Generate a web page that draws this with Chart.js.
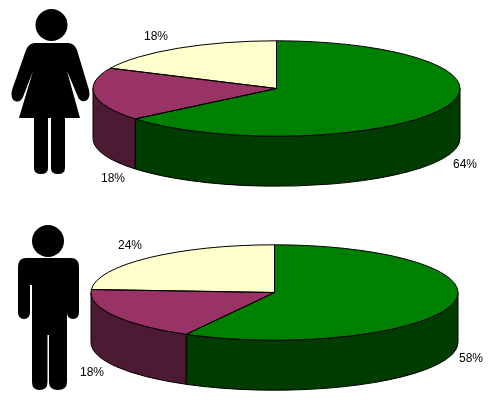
<!DOCTYPE html>
<html>
<head>
<meta charset="utf-8">
<title>Pie charts</title>
<script src="https://cdn.jsdelivr.net/npm/chart.js@4"></script>
<style>
    html, body { margin: 0; padding: 0; background: #fff; }
    #stage { position: relative; width: 488px; height: 407px; overflow: hidden; }
    #stage canvas, #stage svg { position: absolute; left: 0; top: 0; }
</style>
</head>
<body>
<div id="stage">
    <svg width="488" height="407" viewBox="0 0 488 407">
        <!-- woman -->
        <circle cx="51.5" cy="25" r="16" fill="#000"/>
        <path fill="#000" d="M35 43 H68 Q74 43 77 50 L89 90 Q91 99 85 101 Q80 102 78 97 L67 71 L80 118 H65 V168 Q65 174 58 174 Q51 174 51 168 V118 H48 V168 Q48 174 41 174 Q34 174 34 168 V118 H19 L33 71 L23 97 Q20 103 15 101 Q10 99 12 90 L26 50 Q29 43 35 43 Z"/>
        <!-- man -->
        <circle cx="48" cy="241" r="16" fill="#000"/>
        <path fill="#000" d="M26 258 H71 Q79 258 79 267 V312 Q79 319 73 319 Q67 319 67 312 V285 V382 Q67 390 58 390 Q49 390 49 382 V335 H47.5 V382 Q47.5 390 39.500 390 Q32 390 32 382 V285 H30 V312 Q30 319 24 319 Q18 319 18 312 V267 Q18 258 26 258 Z"/>
    </svg>
    <canvas id="womenPie" width="488" height="407"></canvas>
    <canvas id="menPie" width="488" height="407"></canvas>
</div>

<script>
const categories = ['Green', 'Maroon', 'Yellow'];
const womenValues = [64, 18, 18];
const menValues = [58, 18, 24];

const topColors = ['#008000', '#993366', '#ffffcc'];
const wallColors = ['#003c00', '#4d1a33', '#808066'];

// draws the pie squashed, with a wall below it
const tiltPlugin = {
    id: 'tilt',
    beforeDatasetsDraw(chart, args, opts) {
        const ctx = chart.ctx;
        const arcs = chart.getDatasetMeta(0).data;
        const ry = arcs[0].outerRadius * opts.squash;

        arcs.forEach((arc, i) => {
            const from = Math.max(arc.startAngle, 0);
            const to = Math.min(arc.endAngle, Math.PI);
            if (from >= to) return;
            ctx.beginPath();
            ctx.ellipse(arc.x, opts.cy, arc.outerRadius, ry, 0, from, to);
            ctx.ellipse(arc.x, opts.cy + opts.depth, arc.outerRadius, ry, 0, to, from, true);
            ctx.closePath();
            ctx.fillStyle = wallColors[i];
            ctx.fill();
            ctx.strokeStyle = '#000';
            ctx.lineWidth = 1;
            ctx.stroke();
        });

        ctx.save();
        ctx.translate(0, opts.cy);
        ctx.scale(1, opts.squash);
        ctx.translate(0, -arcs[0].y);
    },
    afterDatasetsDraw(chart, args, opts) {
        const ctx = chart.ctx;
        ctx.restore();

        const arcs = chart.getDatasetMeta(0).data;
        const values = chart.data.datasets[0].data;
        arcs.forEach((arc, i) => {
            ctx.beginPath();
            ctx.moveTo(arc.x, opts.cy);
            ctx.ellipse(arc.x, opts.cy, arc.outerRadius, arc.outerRadius * opts.squash, 0, arc.startAngle, arc.endAngle);
            ctx.closePath();
            ctx.strokeStyle = '#000';
            ctx.lineWidth = 1;
            ctx.stroke();

            ctx.fillStyle = '#000';
            ctx.font = '12px "Liberation Sans", Arial, sans-serif';
            ctx.textAlign = 'left';
            ctx.textBaseline = 'alphabetic';
            ctx.fillText(values[i] + '%', opts.labelSpots[i][0], opts.labelSpots[i][1]);
        });
    }
};

function makePie(id, values, opts) {
    return new Chart(document.getElementById(id), {
        type: 'pie',
        data: {
            labels: categories,
            datasets: [{
                data: values,
                backgroundColor: topColors,
                borderWidth: 0,
                clip: false
            }]
        },
        options: {
            responsive: false,
            animation: false,
            events: [],
            layout: { padding: opts.padding },
            plugins: {
                legend: { display: false },
                tooltip: { enabled: false },
                tilt: opts
            }
        },
        plugins: [tiltPlugin]
    });
}

makePie('womenPie', womenValues, {
    padding: { left: 93, right: 28, top: 20, bottom: 20 },
    cy: 88.5,
    squash: 0.26,
    depth: 50,
    labelSpots: [[453, 168], [101, 182], [144, 40]]
});

makePie('menPie', menValues, {
    padding: { left: 91, right: 30, top: 20, bottom: 20 },
    cy: 292.5,
    squash: 0.26,
    depth: 50,
    labelSpots: [[459, 362], [80, 376], [118, 249]]
});
</script>
</body>
</html>
